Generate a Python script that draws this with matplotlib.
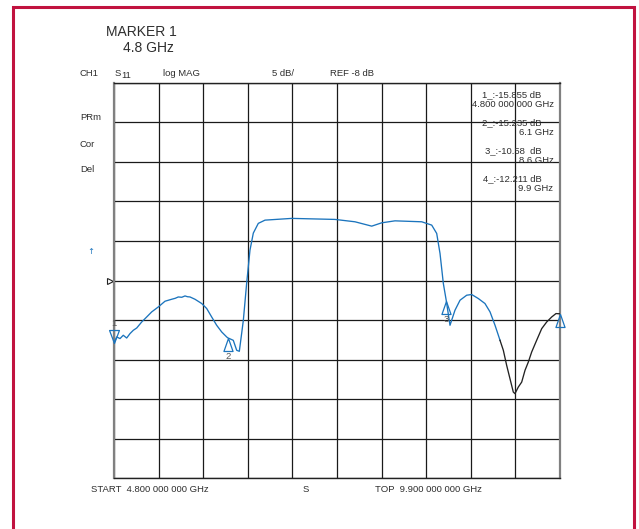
import numpy as np
import matplotlib
matplotlib.use("Agg")
from matplotlib import pyplot as plt
from matplotlib.patches import Rectangle

# S11 trace (GHz, dB)
freq_ghz = [
    4.800, 4.831, 4.869, 4.906, 4.945, 4.983, 5.021, 5.060, 5.117, 5.174,
    5.231, 5.307, 5.383, 5.420, 5.460, 5.500, 5.535, 5.575, 5.612, 5.640,
    5.669, 5.726, 5.803, 5.860, 5.917, 5.974, 6.032, 6.089, 6.100, 6.164,
    6.203, 6.233, 6.260, 6.279, 6.317, 6.355, 6.393, 6.450, 6.527, 6.832,
    7.327, 7.556, 7.747, 7.861, 8.013, 8.319, 8.433, 8.490, 8.528, 8.566,
    8.600, 8.642, 8.699, 8.757, 8.833, 8.890, 8.966, 9.042, 9.100, 9.157,
    9.195, 9.214, 9.252, 9.290, 9.328, 9.366, 9.385, 9.423, 9.462, 9.500,
    9.538, 9.576, 9.633, 9.691, 9.748, 9.805, 9.854, 9.900,
]
s11_db = [
    -15.86, -15.14, -15.34, -14.92, -15.27, -14.71, -14.29, -14.00, -13.24, -12.61,
    -11.97, -11.34, -10.62, -10.50, -10.37, -10.25, -10.08, -10.12, -9.95, -10.05,
    -10.08, -10.37, -10.91, -11.54, -12.61, -13.66, -14.51, -15.14, -15.24, -15.56,
    -16.82, -16.95, -14.67, -13.03, -8.34, -4.16, -2.01, -0.78, -0.37, -0.15,
    -0.28, -0.58, -1.13, -0.71, -0.46, -0.58, -1.00, -2.05, -4.58, -8.38,
    -10.58, -13.66, -11.76, -10.49, -9.86, -9.77, -10.28, -10.91, -11.97, -13.66,
    -14.92, -15.56, -16.82, -18.72, -20.41, -22.10, -22.30, -21.47, -20.84, -19.35,
    -18.30, -17.04, -15.56, -14.08, -13.24, -12.61, -12.18, -12.21,
]
black_from_ghz = 9.214

marker_freq_ghz = [4.8, 6.1, 8.6, 9.9]
marker_db = [-15.855, -15.235, -10.58, -12.211]
marker_db_text = ["-15.855 dB", "-15.235 dB", "-10.58  dB", "-12.211 dB"]
marker_freq_text = ["4.800 000 000 GHz", "6.1 GHz", "8.6 GHz", "9.9 GHz"]

start_ghz, stop_ghz = 4.8, 9.9
ref_db, db_per_div, n_div = -8, 5, 10

W, H = 639, 529
blue = "#1b74bd"
ink = "#2e2e2e"
small = 6.8
plt.rcParams["font.family"] = ["Liberation Sans", "DejaVu Sans"]


def px(x, y):
    return x / W, 1 - y / H


fig = plt.figure(figsize=(W / 100, H / 100), dpi=100)
ax = fig.add_axes([114 / W, 1 - 478.3 / H, 446 / W, 395.6 / H])

f = np.array(freq_ghz)
s = np.array(s11_db)
blue_part = f <= black_from_ghz
black_part = f >= black_from_ghz
ax.plot(f[blue_part], s[blue_part], color=blue, lw=0.95, zorder=3)
ax.plot(f[black_part], s[black_part], color="#222222", lw=0.95, zorder=3)

ax.set_xlim(start_ghz, stop_ghz)
ax.set_ylim(ref_db - db_per_div * n_div / 2, ref_db + db_per_div * n_div / 2)
ax.set_xticks(np.linspace(start_ghz, stop_ghz, n_div + 1))
ax.set_yticks(np.linspace(ref_db - db_per_div * n_div / 2,
                          ref_db + db_per_div * n_div / 2, n_div + 1))
ax.grid(True, color="#1a1a1a", lw=0.9)
ax.tick_params(length=0, labelbottom=False, labelleft=False)
for side in ["top", "bottom"]:
    ax.spines[side].set_color("#222222")
    ax.spines[side].set_linewidth(1.0)
for side in ["left", "right"]:
    ax.spines[side].set_color("#808080")
    ax.spines[side].set_linewidth(1.6)

# marker triangles: active marker points down onto the trace, others up from below
tri_above = [(0, 0), (-0.38, 1), (0.38, 1), (0, 0)]
tri_below = [(0, 0), (-0.35, -1), (0.35, -1), (0, 0)]
for i, (mf, md) in enumerate(zip(marker_freq_ghz, marker_db)):
    shape = tri_above if i == 0 else tri_below
    ax.plot([mf], [md], marker=shape, ms=18.7, mfc="none", mec=blue,
            mew=0.9, ls="none", clip_on=False, zorder=4)
    if i < 3:
        dy = 13.5 if i == 0 else -13.2
        ax.annotate(str(i + 1), (mf, md), xytext=(0, dy), textcoords="offset points",
                    ha="center", va="center", fontsize=small, color="#555555")

# reference level pointer
ax.plot([-0.009], [ref_db], marker=">", ms=4.5, mfc="white", mec="#222222",
        mew=0.8, transform=ax.get_yaxis_transform(), clip_on=False)

# marker readout
for i in range(4):
    y0 = 94.3 + i * 28
    fig.text(*px(541.5, y0), f"{i + 1}_:{marker_db_text[i]}", ha="right", va="center",
             fontsize=small, color=ink)
    fig.text(*px(553.5, y0 + 9.8 if i else y0 + 10), marker_freq_text[i],
             ha="right", va="center", fontsize=small, color=ink)

# header
fig.text(*px(106, 32.5), "MARKER 1", fontsize=10, color=ink, va="center")
fig.text(*px(123, 48), "4.8 GHz", fontsize=10, color=ink, va="center")
fig.text(*px(80, 73.3), "CH1", fontsize=small, color=ink, va="center")
fig.text(*px(115, 73.3), "S", fontsize=small, color=ink, va="center")
fig.text(*px(121.5, 76), "11", fontsize=small, color=ink, va="center")
fig.text(*px(163, 73.3), "log MAG", fontsize=small, color=ink, va="center")
fig.text(*px(271.5, 73.3), "5 dB/", fontsize=small, color=ink, va="center")
fig.text(*px(330, 73.3), "REF -8 dB", fontsize=small, color=ink, va="center")
fig.text(*px(80, 117.7), "PRm", fontsize=small, color=ink, va="center")
fig.text(*px(80, 144.3), "Cor", fontsize=small, color=ink, va="center")
fig.text(*px(80, 170), "Del", fontsize=small, color=ink, va="center")
fig.text(*px(91, 251), "\u2191", fontsize=6, color=blue, ha="center", va="center",
         family="DejaVu Sans")

# footer
fig.text(*px(91, 489), "START  4.800 000 000 GHz", fontsize=small, color=ink, va="center")
fig.text(*px(303, 489), "S", fontsize=small, color=ink, va="center")
fig.text(*px(375, 489), "TOP  9.900 000 000 GHz", fontsize=small, color=ink, va="center")

# page frame
fig.patches.append(Rectangle((13 / W, -0.05), 621 / W, 1 - 7 / H + 0.05,
                             transform=fig.transFigure, fill=False,
                             ec="#c1123f", lw=2.2))

fig.savefig("out.png", dpi=100)
